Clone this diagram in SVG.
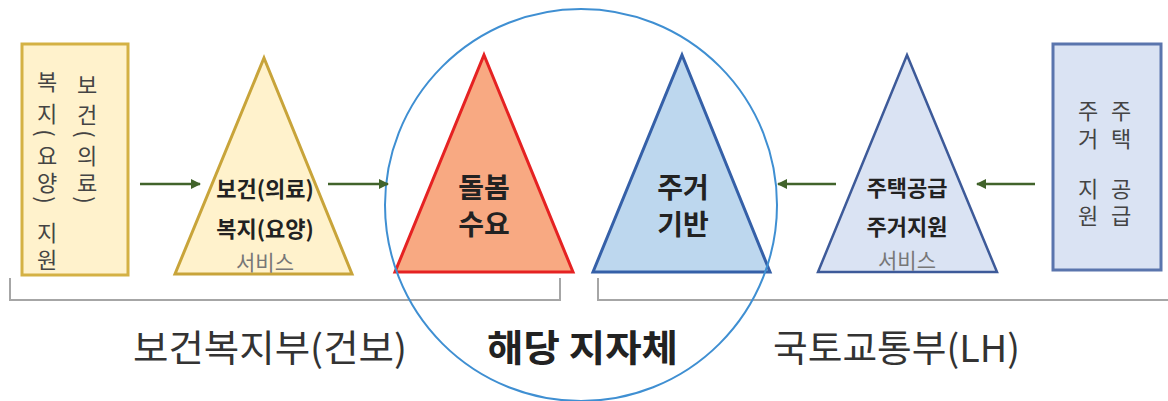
<svg xmlns="http://www.w3.org/2000/svg" width="1168" height="401" viewBox="0 0 1168 401">
<defs>
<style>
text{font-family:"Noto Sans CJK KR","Noto Sans",sans-serif;}
.vc{font-size:22px;fill:#444;text-anchor:middle;dominant-baseline:central;}
.tb{font-size:22px;font-weight:bold;fill:#222;text-anchor:middle;dominant-baseline:central;}
.ts{font-size:21px;fill:#777;text-anchor:middle;dominant-baseline:central;}
.big{font-size:28px;font-weight:bold;fill:#222;text-anchor:middle;dominant-baseline:central;}
.lab{font-size:37px;fill:#333;dominant-baseline:central;}
.arr{stroke:#41632b;stroke-width:2.5;fill:none;}
.br{stroke:#a6a6a6;stroke-width:2;fill:none;}
</style>
<marker id="ah" viewBox="0 0 10 10" refX="9" refY="5" markerWidth="4" markerHeight="4" orient="auto" markerUnits="strokeWidth">
<path d="M0,0 L10,5 L0,10 z" fill="#41632b"/>
</marker>
</defs>
<rect width="1168" height="401" fill="#fff"/>

<g id="brackets">
<path class="br" d="M10,278 V300 H560 V278"/>
<path class="br" d="M598,278 V300 H1168"/>
</g>

<g id="welfare-support">
<rect x="22" y="44" width="106" height="231" fill="#fff2cc" stroke="#d4b144" stroke-width="3"/>
<text class="vc" x="87" y="83">보</text>
<text class="vc" x="87" y="113">건</text>
<text class="vc" transform="translate(87,134) rotate(90)">(</text>
<text class="vc" x="87" y="154">의</text>
<text class="vc" x="87" y="181">료</text>
<text class="vc" transform="translate(87,200) rotate(90)">)</text>
<text class="vc" x="47" y="80">복</text>
<text class="vc" x="47" y="112">지</text>
<text class="vc" transform="translate(47,133) rotate(90)">(</text>
<text class="vc" x="47" y="154">요</text>
<text class="vc" x="47" y="181">양</text>
<text class="vc" transform="translate(47,200) rotate(90)">)</text>
<text class="vc" x="47" y="231">지</text>
<text class="vc" x="47" y="258">원</text>
</g>

<g id="welfare-service">
<polygon points="264,58 352,274 175,274" fill="#fff2cc" stroke="#c8a43a" stroke-width="3"/>
<text class="tb" x="265" y="187">보건(의료)</text>
<text class="tb" x="265" y="227">복지(요양)</text>
<text class="ts" x="265" y="261">서비스</text>
</g>

<g id="care-demand">
<polygon points="484,55 573,272 395,272" fill="#f8a982" stroke="#e52222" stroke-width="3"/>
<text class="big" x="484" y="186">돌봄</text>
<text class="big" x="484" y="223">수요</text>
</g>

<g id="housing-base">
<polygon points="682,55 770,272 593,272" fill="#bdd7ee" stroke="#3560a8" stroke-width="3"/>
<text class="big" x="683" y="186">주거</text>
<text class="big" x="683" y="223">기반</text>
</g>

<g id="housing-service">
<polygon points="907,55 997,272 818,272" fill="#dae3f3" stroke="#3d5a99" stroke-width="2.5"/>
<text class="tb" x="907" y="186">주택공급</text>
<text class="tb" x="907" y="225">주거지원</text>
<text class="ts" x="907" y="259">서비스</text>
</g>

<g id="housing-support">
<rect x="1053" y="44" width="108" height="226" fill="#dae3f3" stroke="#5a75ad" stroke-width="3"/>
<text class="vc" x="1088" y="109">주</text>
<text class="vc" x="1088" y="137">거</text>
<text class="vc" x="1088" y="187">지</text>
<text class="vc" x="1088" y="214">원</text>
<text class="vc" x="1121" y="109">주</text>
<text class="vc" x="1121" y="137">택</text>
<text class="vc" x="1121" y="187">공</text>
<text class="vc" x="1121" y="214">급</text>
</g>

<g id="local-government">
<circle cx="581" cy="205" r="196" fill="none" stroke="#3f8fd2" stroke-width="2"/>
</g>

<g id="connectors">
<line class="arr" x1="140" y1="184" x2="200" y2="184" marker-end="url(#ah)"/>
<line class="arr" x1="328" y1="184" x2="388" y2="184" marker-end="url(#ah)"/>
<line class="arr" x1="836" y1="184" x2="778" y2="184" marker-end="url(#ah)"/>
<line class="arr" x1="1035" y1="184" x2="977" y2="184" marker-end="url(#ah)"/>
</g>

<g id="labels">
<text class="lab" x="133" y="346" textLength="274" lengthAdjust="spacingAndGlyphs">보건복지부(건보)</text>
<text class="lab" x="487" y="346" textLength="191" lengthAdjust="spacingAndGlyphs" font-weight="bold" style="fill:#222">해당 지자체</text>
<text class="lab" x="773" y="346" textLength="247" lengthAdjust="spacingAndGlyphs">국토교통부(LH)</text>
</g>
</svg>
